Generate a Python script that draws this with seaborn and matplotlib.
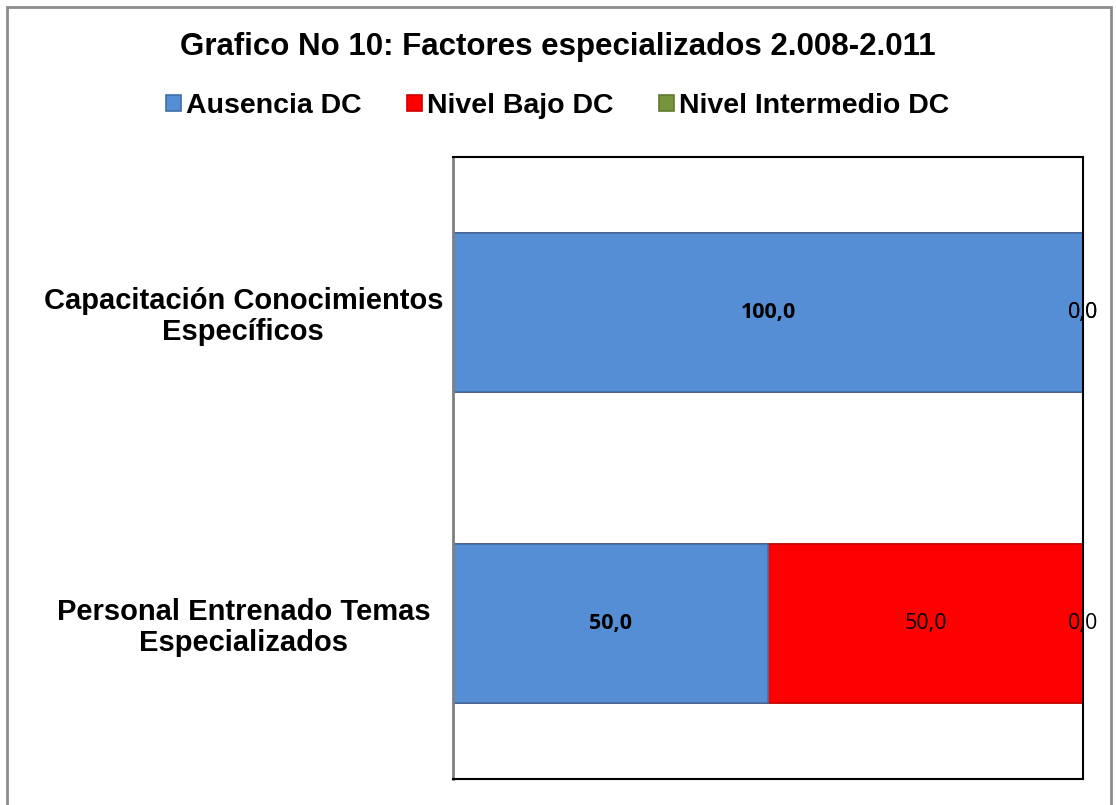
import matplotlib
matplotlib.use("Agg")
import matplotlib.pyplot as plt
from matplotlib.patches import Patch, Rectangle
import seaborn as sns
import pandas as pd

# Data
categories = ["Capacitación Conocimientos\nEspecíficos", "Personal Entrenado Temas\nEspecializados"]
series = ["Ausencia DC", "Nivel Bajo DC", "Nivel Intermedio DC"]
ausencia = [100.0, 50.0]
bajo = [0.0, 50.0]
intermedio = [0.0, 0.0]

colors = {"Ausencia DC": "#558ED5", "Nivel Bajo DC": "#FF0000", "Nivel Intermedio DC": "#77933C"}
edges = {"Ausencia DC": "#3F6FA8", "Nivel Bajo DC": "#D00000", "Nivel Intermedio DC": "#5E7A2E"}

sns.set_theme(style="white")
plt.rcParams["font.family"] = ["Liberation Sans", "DejaVu Sans"]
plt.rcParams["text.color"] = "black"
plt.rcParams["ytick.color"] = "black"
plt.rcParams["ytick.labelcolor"] = "black"

df = pd.DataFrame({"cat": categories, "Ausencia DC": ausencia,
                   "Nivel Bajo DC": bajo, "Nivel Intermedio DC": intermedio})
# cumulative ends for stacking (draw back to front)
df["end_aus"] = df["Ausencia DC"]
df["end_bajo"] = df["end_aus"] + df["Nivel Bajo DC"]
df["end_int"] = df["end_bajo"] + df["Nivel Intermedio DC"]

fig = plt.figure(figsize=(11.16, 8.05), dpi=100)
ax = fig.add_axes([0.406, 0.0323, 0.5645, 0.7727])

for col, name in [("end_int", "Nivel Intermedio DC"), ("end_bajo", "Nivel Bajo DC"), ("end_aus", "Ausencia DC")]:
    sns.barplot(data=df, y="cat", x=col, orient="h", color=colors[name], ax=ax,
                width=0.51, edgecolor=edges[name], linewidth=1.2, saturation=1)

ax.set_xlim(0, 100)
ax.set_ylim(1.5, -0.5)
ax.set_xlabel("")
ax.set_ylabel("")
ax.set_xticks([])

# data labels
for i in range(len(categories)):
    starts = [0, ausencia[i], ausencia[i] + bajo[i]]
    vals = [ausencia[i], bajo[i], intermedio[i]]
    for j, v in enumerate(vals):
        xc = starts[j] + v / 2
        ax.text(xc, i, f"{v:.1f}".replace(".", ","), ha="center", va="center",
                fontsize=15.5, fontweight="bold" if j == 0 else "normal",
                family=["Open Sans", "DejaVu Sans"], color="black", clip_on=False)

ax.tick_params(axis="y", length=0, pad=151)
for lab in ax.get_yticklabels():
    lab.set_ha("center")
    lab.set_multialignment("center")
    lab.set_fontweight("bold")
    lab.set_fontsize(21)
    lab.set_linespacing(1.1)
    lab.set_color("black")

for s in ["top", "right", "bottom"]:
    ax.spines[s].set_color("black")
    ax.spines[s].set_linewidth(1.5)
ax.spines["left"].set_color("#808080")
ax.spines["left"].set_linewidth(2)

fig.text(0.5, 0.942, "Grafico No 10: Factores especializados 2.008-2.011", ha="center", va="center",
         fontsize=22.5, fontweight="bold")

handles = [Patch(facecolor=colors[s], edgecolor=edges[s], linewidth=1.2) for s in series]
leg = fig.legend(handles, series, loc="center", bbox_to_anchor=(0.5, 0.868), ncol=3, frameon=False,
                 prop={"weight": "bold", "size": 20.5}, handlelength=0.5, handleheight=0.5,
                 handletextpad=0.2, columnspacing=1.6)

fig.patches.append(Rectangle((7 / 1116, -0.01), 1104 / 1116, 1 - 7 / 805 + 0.01, transform=fig.transFigure,
                             fill=False, edgecolor="#8C8C8C", linewidth=2))

fig.savefig("out.png", dpi=100)
